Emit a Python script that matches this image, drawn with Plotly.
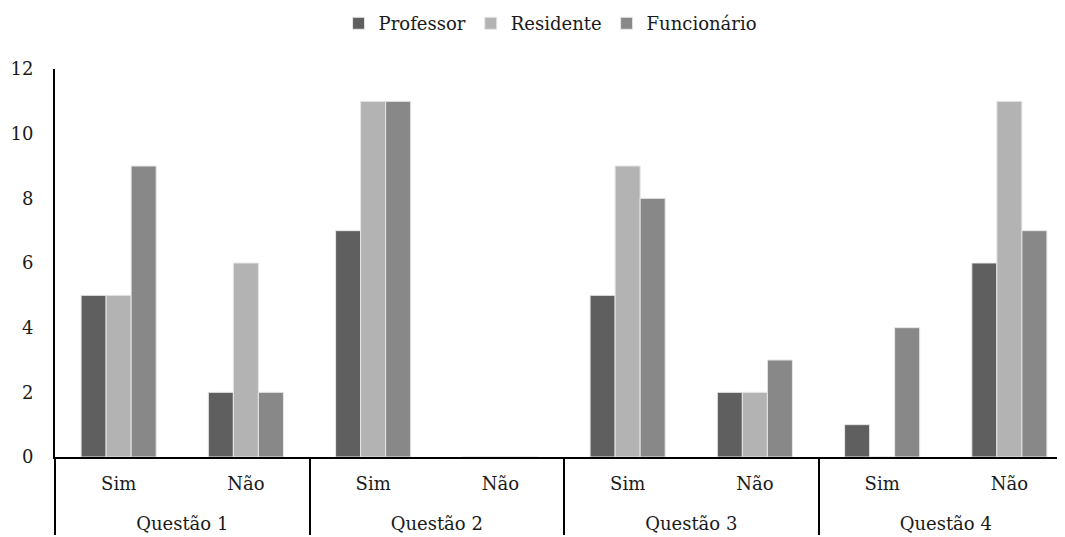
import plotly.graph_objects as go

questions = ["Questão 1", "Questão 1", "Questão 2", "Questão 2",
             "Questão 3", "Questão 3", "Questão 4", "Questão 4"]
answers = ["Sim", "Não", "Sim", "Não", "Sim", "Não", "Sim", "Não"]

professor = [5, 2, 7, 0, 5, 2, 1, 6]
residente = [5, 6, 11, 0, 9, 2, 0, 11]
funcionario = [9, 2, 11, 0, 8, 3, 4, 7]

series = [
    ("Professor", professor, "#5f5f5f"),
    ("Residente", residente, "#b3b3b3"),
    ("Funcionário", funcionario, "#888888"),
]

font_family = "DejaVu Serif"

# extra blank line under the inner labels to space the outer level like the reference
answer_labels = [a + "<br><span style='font-size:30px'>\u00a0</span>" for a in answers]

fig = go.Figure()
for name, vals, color in series:
    fig.add_trace(go.Bar(
        x=[questions, answer_labels], y=vals, name=name,
        marker=dict(color=color, line=dict(color="#e6e6e6", width=1)),
    ))

fig.update_layout(
    width=1065, height=537,
    margin=dict(l=47, r=0, t=61, b=88),
    paper_bgcolor="white", plot_bgcolor="white",
    barmode="group", bargap=0.41, bargroupgap=0,
    font=dict(family=font_family, size=18, color="#1a1a1a"),
    legend=dict(orientation="h", x=0.509, xanchor="center", xref="container",
                y=0.971, yref="container", yanchor="middle",
                font=dict(size=18, family=font_family),
                traceorder="normal"),
    showlegend=True,
)
fig.update_xaxes(
    type="multicategory", range=[-0.5, 7.5],
    showline=True, linecolor="black", linewidth=2,
    showgrid=False, ticks="", ticklabelstandoff=9,
    showdividers=True, dividercolor="black", dividerwidth=2,
    tickfont=dict(size=18, family=font_family, color="#1a1a1a"),
)
fig.update_yaxes(
    range=[0, 12], dtick=2, showline=True, linecolor="black", linewidth=2,
    showgrid=False, zeroline=False, ticks="", ticklabelstandoff=16,
    tickfont=dict(size=18, family=font_family, color="#1a1a1a"),
)

fig.write_html("out.html")
